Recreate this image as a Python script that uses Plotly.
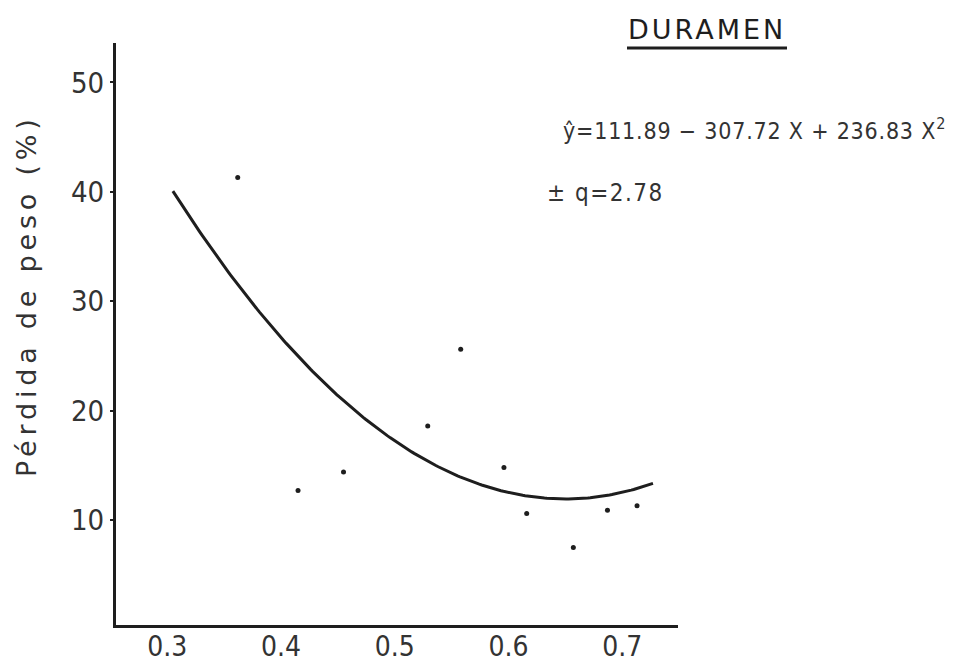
import numpy as np
import plotly.graph_objects as go

# Wood density (x) vs. weight loss (%) for heartwood samples
densidad = [0.362, 0.415, 0.455, 0.529, 0.558, 0.596, 0.616, 0.657, 0.687, 0.713]
perdida = [41.3, 12.7, 14.4, 18.6, 25.6, 14.8, 10.6, 7.5, 10.9, 11.3]

# Quadratic regression coefficients: y = b0 + b1*X + b2*X^2
b0, b1, b2 = 111.89, -307.72, 236.83
x_fit_min, x_fit_max = 0.305, 0.727

x_ticks = [0.3, 0.4, 0.5, 0.6, 0.7]
y_ticks = [10, 20, 30, 40, 50]

ink = "#1e1e1e"
txt = "#333333"
num_font = "DejaVu Sans Condensed, Liberation Sans Narrow, sans-serif"

xf = np.linspace(x_fit_min, x_fit_max, 200)
yf = b0 + b1 * xf + b2 * xf ** 2

fig = go.Figure()
fig.add_trace(go.Scatter(x=xf, y=yf, mode="lines",
                         line=dict(color=ink, width=3), hoverinfo="skip"))
fig.add_trace(go.Scatter(x=densidad, y=perdida, mode="markers",
                         marker=dict(color=ink, size=5)))

fig.update_layout(
    width=964, height=663,
    margin=dict(l=116, r=286, t=43, b=38),
    paper_bgcolor="white", plot_bgcolor="white",
    showlegend=False,
    xaxis=dict(range=[0.255, 0.749], tickvals=x_ticks,
               ticktext=[f"{v:.1f}" for v in x_ticks],
               automargin=False,
               showgrid=False, zeroline=False, showline=True,
               linecolor=ink, linewidth=3, ticks="",
               ticklabelstandoff=-6,
               tickfont=dict(family=num_font, size=28, color=txt)),
    yaxis=dict(range=[0.41, 53.6], tickvals=y_ticks,
               automargin=False,
               showgrid=False, zeroline=False, showline=True,
               linecolor=ink, linewidth=3, ticks="outside", ticklen=3,
               tickwidth=2, tickcolor=ink,
               tickfont=dict(family=num_font, size=29, color=txt)),
)

# Axis title, letter-spaced
fig.add_annotation(text='<span style="letter-spacing:4.8px">Pérdida de peso (%)</span>',
                   textangle=-90, xref="paper", yref="paper",
                   x=(26 - 116) / 562, y=(625 - 296) / 582,
                   xanchor="center", yanchor="middle", showarrow=False,
                   font=dict(family="DejaVu Sans", size=27, color=txt))

# Panel heading, underlined
fig.add_annotation(text='<span style="letter-spacing:3px">DURAMEN</span>',
                   xref="paper", yref="paper",
                   x=(707 - 116) / 562, y=(625 - 29) / 582,
                   xanchor="center", yanchor="middle", showarrow=False,
                   font=dict(family="DejaVu Sans", size=27, color=ink))
fig.add_shape(type="line", xref="paper", yref="paper",
              x0=(627 - 116) / 562, x1=(787 - 116) / 562,
              y0=(625 - 48) / 582, y1=(625 - 48) / 582,
              line=dict(color=ink, width=3))

# Regression equation and error term
fig.add_annotation(text='<span style="letter-spacing:0.8px">ŷ=111.89 − 307.72 X + 236.83 X<sup>2</sup></span>',
                   xref="paper", yref="paper",
                   x=(561 - 116) / 562, y=(625 - 129) / 582,
                   xanchor="left", yanchor="middle", showarrow=False,
                   font=dict(family=num_font, size=23, color=txt))
fig.add_annotation(text='<span style="letter-spacing:1.5px">± q=2.78</span>',
                   xref="paper", yref="paper",
                   x=(545 - 116) / 562, y=(625 - 193) / 582,
                   xanchor="left", yanchor="middle", showarrow=False,
                   font=dict(family=num_font, size=24, color=txt))

fig.write_html("out.html")
